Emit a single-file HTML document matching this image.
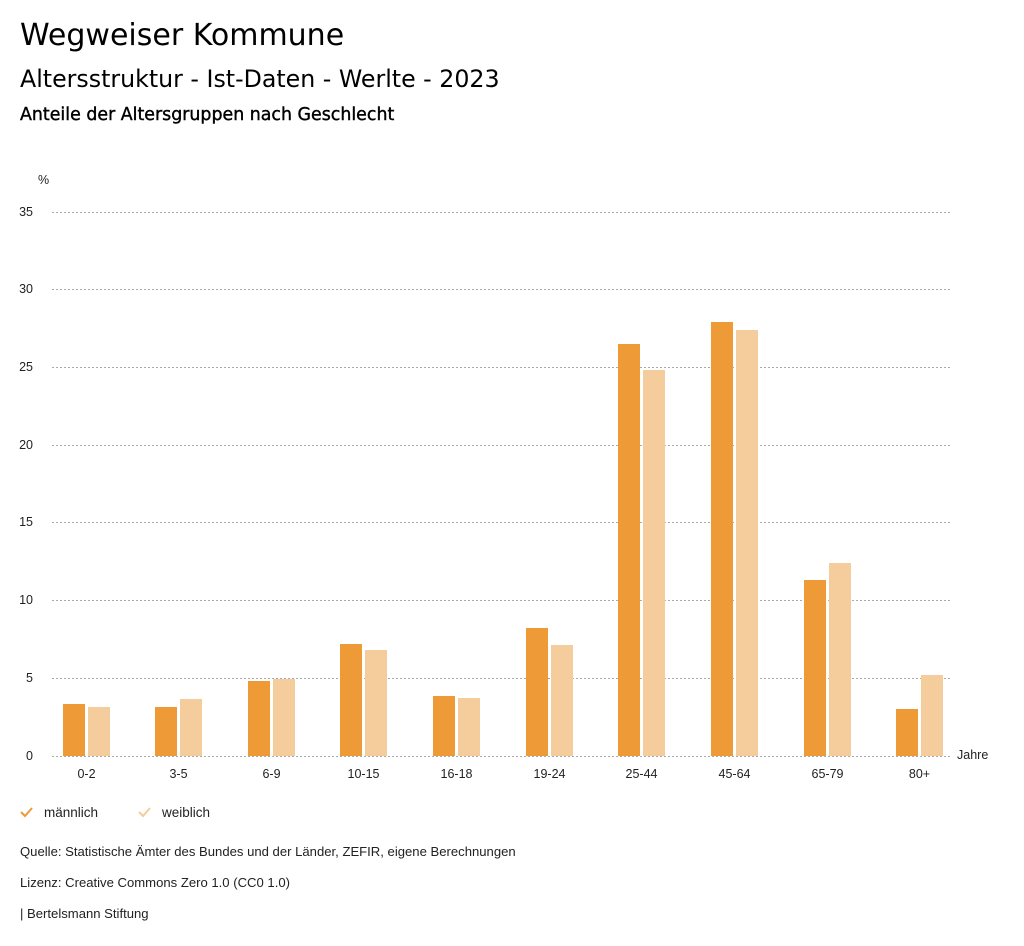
<!DOCTYPE html>
<html><head><meta charset="utf-8"><style>
body{margin:0;background:#fff;width:1024px;height:946px;overflow:hidden;font-family:"Liberation Sans",sans-serif}
.t{position:absolute;left:20px;font-family:"DejaVu Sans",sans-serif;color:#000;white-space:nowrap}
</style></head><body>
<div class="t" style="top:18px;font-size:30px">Wegweiser Kommune</div>
<div class="t" style="top:65px;font-size:23.7px">Altersstruktur - Ist-Daten - Werlte - 2023</div>
<div class="t" style="top:105px;font-size:17.4px;-webkit-text-stroke:0.4px #000">Anteile der Altersgruppen nach Geschlecht</div>
<svg width="1024" height="946" style="position:absolute;left:0;top:0" font-family="Liberation Sans, sans-serif" font-size="12.5" fill="#222">
<text x="38" y="184">%</text>
<g stroke="#aaa" stroke-dasharray="2,2" stroke-width="1">
<line x1="52" x2="952" y1="212.5" y2="212.5"/><line x1="52" x2="952" y1="289.5" y2="289.5"/>
<line x1="52" x2="952" y1="367.5" y2="367.5"/><line x1="52" x2="952" y1="445.5" y2="445.5"/>
<line x1="52" x2="952" y1="522.5" y2="522.5"/><line x1="52" x2="952" y1="600.5" y2="600.5"/>
<line x1="52" x2="952" y1="678.5" y2="678.5"/><line x1="52" x2="952" y1="756.5" y2="756.5"/>
</g>
<g text-anchor="end">
<text x="33" y="216">35</text><text x="33" y="293">30</text><text x="33" y="371">25</text><text x="33" y="449">20</text>
<text x="33" y="526">15</text><text x="33" y="604">10</text><text x="33" y="682">5</text><text x="33" y="760">0</text>
</g>
<g fill="#EE9A37">
<rect x="63" y="704" width="22" height="52"/><rect x="155" y="707" width="22" height="49"/>
<rect x="248" y="681" width="22" height="75"/><rect x="340" y="644" width="22" height="112"/>
<rect x="433" y="696" width="22" height="60"/><rect x="526" y="628" width="22" height="128"/>
<rect x="618" y="344" width="22" height="412"/><rect x="711" y="322" width="22" height="434"/>
<rect x="804" y="580" width="22" height="176"/><rect x="896" y="709" width="22" height="47"/>
</g>
<g fill="#F5CD9C">
<rect x="88" y="707" width="22" height="49"/><rect x="180" y="699" width="22" height="57"/>
<rect x="273" y="679" width="22" height="77"/><rect x="365" y="650" width="22" height="106"/>
<rect x="458" y="698" width="22" height="58"/><rect x="551" y="645" width="22" height="111"/>
<rect x="643" y="370" width="22" height="386"/><rect x="736" y="330" width="22" height="426"/>
<rect x="829" y="563" width="22" height="193"/><rect x="921" y="675" width="22" height="81"/>
</g>
<g text-anchor="middle">
<text x="86.5" y="778">0-2</text><text x="178.5" y="778">3-5</text><text x="271.5" y="778">6-9</text>
<text x="363.5" y="778">10-15</text><text x="456.5" y="778">16-18</text><text x="549.5" y="778">19-24</text>
<text x="641.5" y="778">25-44</text><text x="734.5" y="778">45-64</text><text x="827.5" y="778">65-79</text>
<text x="919.5" y="778">80+</text>
</g>
<text x="957" y="759">Jahre</text>
<g font-size="13.5">
<path d="M21 812 L25 816 L32 808" stroke="#EE9A37" stroke-width="2" fill="none"/>
<text x="44" y="817">männlich</text>
<path d="M139 812 L143 816 L150 808" stroke="#F5CD9C" stroke-width="2" fill="none"/>
<text x="162" y="817">weiblich</text>
</g>
<g font-size="13.1">
<text x="20" y="856">Quelle: Statistische Ämter des Bundes und der Länder, ZEFIR, eigene Berechnungen</text>
<text x="20" y="887">Lizenz: Creative Commons Zero 1.0 (CC0 1.0)</text>
<text x="20" y="918">| Bertelsmann Stiftung</text>
</g>
</svg>
</body></html>
